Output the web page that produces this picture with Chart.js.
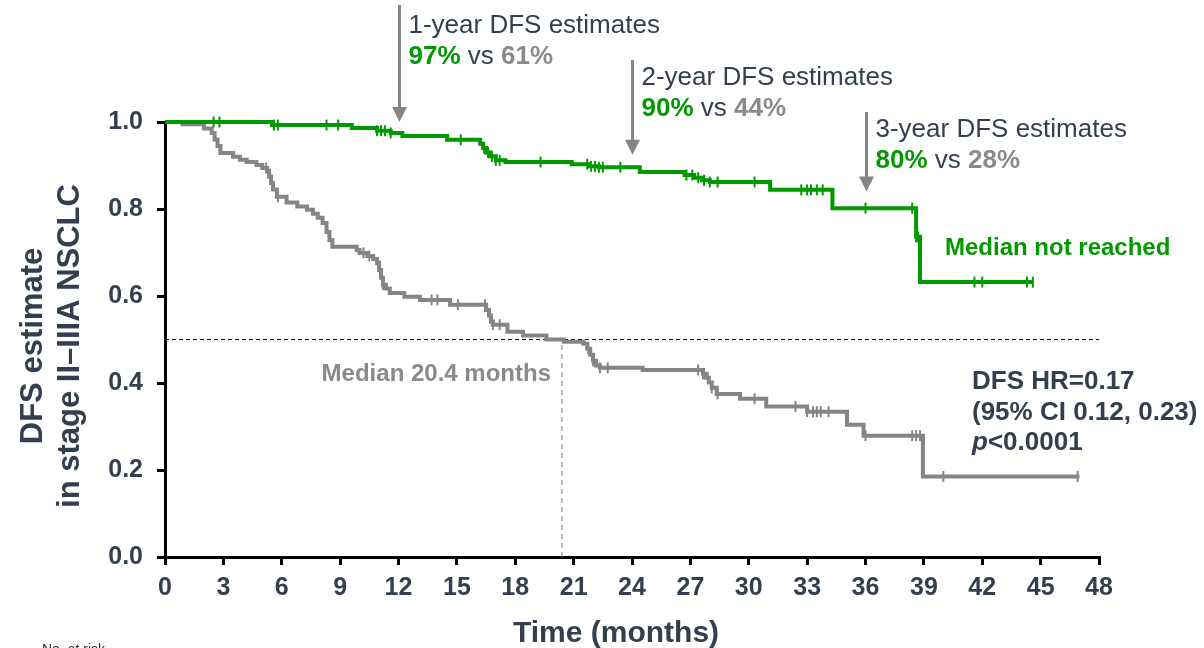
<!DOCTYPE html>
<html>
<head>
<meta charset="utf-8">
<script src="https://cdn.jsdelivr.net/npm/chart.js@4.4.1/dist/chart.umd.min.js"></script>
<style>
  html, body { margin: 0; padding: 0; background: #fff; overflow: hidden; }
  canvas { display: block; }
</style>
</head>
<body>
<canvas id="km" width="1204" height="648" style="width:1204px;height:648px"></canvas>
<script>
// Kaplan–Meier disease-free survival, two arms (months vs. DFS estimate)
const xTicks = [0, 3, 6, 9, 12, 15, 18, 21, 24, 27, 30, 33, 36, 39, 42, 45, 48];
const yTicks = [0, 0.2, 0.4, 0.6, 0.8, 1.0];
const yTickLabels = ['0.0', '0.2', '0.4', '0.6', '0.8', '1.0'];

// Experimental arm: step times and survival after each step
const greenTime = [0, 5.5, 9.6, 10.9, 11.6, 12.2, 14.5, 16.2, 16.35, 16.5, 16.7, 17.0, 17.5,
  20.9, 21.8, 22.3, 24.4, 26.7, 27.2, 27.6, 28.0, 31.1, 34.3, 38.6, 38.8, 44.6];
const greenSurv = [1.0, 0.993, 0.986, 0.980, 0.975, 0.968, 0.959, 0.950, 0.940, 0.930, 0.921, 0.912, 0.908,
  0.903, 0.898, 0.896, 0.885, 0.878, 0.872, 0.866, 0.862, 0.844, 0.802, 0.736, 0.632, 0.632];
const greenCensor = [2.5, 2.8, 5.6, 5.8, 8.3, 8.9, 10.9, 11.1, 11.3, 11.6, 15.2, 16.4, 16.6, 16.8, 17.0, 17.2,
  19.3, 21.7, 21.9, 22.1, 22.3, 22.5, 23.4, 26.8, 27.1, 27.4, 27.7, 28.0, 28.4, 30.3, 32.7, 33.0, 33.2,
  33.5, 33.8, 36.0, 38.4, 38.6, 38.7, 41.6, 42.0, 44.3, 44.6];

// Control arm
const grayTime = [0, 0.9, 2.0, 2.4, 2.55, 2.7, 2.85, 3.5, 3.85, 4.2, 4.7, 5.0, 5.25, 5.35, 5.45, 5.55, 5.75,
  6.25, 6.8, 7.3, 7.6, 7.85, 8.1, 8.3, 8.45, 8.6, 9.85, 10.0, 10.4, 10.7, 10.9, 11.0, 11.1, 11.2, 11.35,
  11.55, 12.3, 13.1, 14.65, 16.5, 16.65, 16.75, 16.85, 17.6, 18.4, 19.6, 20.5, 21.5, 21.7, 21.85, 22.0,
  22.15, 22.35, 24.55, 27.65, 27.8, 27.95, 28.1, 28.35, 29.55, 30.9, 33.0, 35.05, 35.9, 38.95, 47.0];
const graySurv = [1.0, 0.995, 0.985, 0.975, 0.960, 0.945, 0.929, 0.920, 0.913, 0.908, 0.901, 0.894, 0.888,
  0.875, 0.860, 0.845, 0.828, 0.815, 0.806, 0.798, 0.789, 0.780, 0.768, 0.747, 0.729, 0.713, 0.706, 0.699,
  0.692, 0.685, 0.676, 0.660, 0.642, 0.626, 0.617, 0.607, 0.598, 0.591, 0.580, 0.568, 0.555, 0.541, 0.534,
  0.518, 0.509, 0.500, 0.495, 0.490, 0.479, 0.465, 0.451, 0.440, 0.435, 0.430, 0.421, 0.412, 0.401, 0.389,
  0.375, 0.364, 0.346, 0.334, 0.304, 0.279, 0.185, 0.185];
const grayCensor = [5.2, 5.5, 5.8, 10.2, 10.5, 11.05, 11.2, 13.7, 14.0, 15.05, 16.45, 16.7, 16.85, 17.2,
  21.75, 22.0, 22.35, 22.75, 27.4, 27.65, 27.9, 28.1, 28.4, 30.3, 32.4, 33.0, 33.3, 33.5, 33.7, 34.1,
  36.0, 38.4, 38.6, 38.8, 40.0, 46.9];

// Landmark estimates
const landmarkMonths = [12, 24, 36];
const landmarkGreen = ['97%', '90%', '80%'];
const landmarkGray = ['61%', '44%', '28%'];
const landmarkTipValue = [1.0, 0.925, 0.84];

const medianGray = 20.4;

const FONT = '"Liberation Sans", Arial, Helvetica, sans-serif';
const DARK = '#333f50';
const GREEN = '#009900';
const GRAY = '#858585';
const GRAY_TEXT = '#8a8a8a';

function curve(times, surv) {
  return times.map((t, i) => ({ x: t, y: surv[i] }));
}
function survAt(times, surv, t) {
  let s = surv[0];
  for (let i = 0; i < times.length; i++) { if (times[i] <= t) s = surv[i]; }
  return s;
}
function censorPoints(cens, times, surv) {
  return cens.map(t => ({ x: t, y: survAt(times, surv, t) }));
}

function drawRuns(ctx, x, y, runs, size) {
  ctx.textAlign = 'left';
  ctx.textBaseline = 'alphabetic';
  for (const r of runs) {
    ctx.font = (r.italic ? 'italic ' : '') + (r.bold ? 'bold ' : '') + size + 'px ' + FONT;
    ctx.fillStyle = r.color;
    ctx.fillText(r.text, x, y);
    x += ctx.measureText(r.text).width;
  }
}

const annotations = {
  id: 'annotations',
  afterDraw(chart) {
    const ctx = chart.ctx;
    const xs = chart.scales.x, ys = chart.scales.y;
    ctx.save();

    // Landmark arrows with estimate labels
    const arrowTop = [5, 60, 112];
    const textBase = [33, 85, 137];
    landmarkMonths.forEach((m, i) => {
      const x = Math.round(xs.getPixelForValue(m)) + 0.5;
      const tip = ys.getPixelForValue(landmarkTipValue[i]);
      ctx.strokeStyle = GRAY;
      ctx.fillStyle = GRAY;
      ctx.lineWidth = 3;
      ctx.beginPath();
      ctx.moveTo(x, arrowTop[i]);
      ctx.lineTo(x, tip - 12);
      ctx.stroke();
      ctx.beginPath();
      ctx.moveTo(x - 7.5, tip - 15);
      ctx.lineTo(x + 7.5, tip - 15);
      ctx.lineTo(x, tip);
      ctx.closePath();
      ctx.fill();

      drawRuns(ctx, x + 9, textBase[i], [{ text: m / 12 + '-year DFS estimates', color: DARK }], 26);
      drawRuns(ctx, x + 9, textBase[i] + 31, [
        { text: landmarkGreen[i], color: GREEN, bold: true },
        { text: ' vs ', color: DARK },
        { text: landmarkGray[i], color: GRAY_TEXT, bold: true }
      ], 26);
    });

    // Median labels
    drawRuns(ctx, 945, 255, [{ text: 'Median not reached', color: GREEN, bold: true }], 24);
    ctx.font = 'bold 24px ' + FONT;
    ctx.fillStyle = GRAY_TEXT;
    ctx.textAlign = 'right';
    ctx.fillText('Median ' + medianGray + ' months', 551, 381);

    // Hazard ratio block
    drawRuns(ctx, 972, 389, [{ text: 'DFS HR=0.17', color: DARK, bold: true }], 26);
    drawRuns(ctx, 972, 420, [{ text: '(95% CI 0.12, 0.23)', color: DARK, bold: true }], 26);
    drawRuns(ctx, 972, 450, [
      { text: 'p', color: DARK, bold: true, italic: true },
      { text: '<0.0001', color: DARK, bold: true }
    ], 26);

    // Axis titles
    ctx.fillStyle = DARK;
    ctx.font = 'bold 31px ' + FONT;
    ctx.textAlign = 'center';
    ctx.textBaseline = 'alphabetic';
    ctx.save();
    ctx.translate(42, 346);
    ctx.rotate(-Math.PI / 2);
    ctx.fillText('DFS estimate', 0, 0);
    ctx.fillText('in stage II\u2013IIIA NSCLC', 0, 37);
    ctx.restore();
    ctx.font = 'bold 30px ' + FONT;
    ctx.fillText('Time (months)', 616, 642);

    // Footnote
    ctx.font = '14px ' + FONT;
    ctx.fillStyle = '#333';
    ctx.textAlign = 'left';
    ctx.fillText('No. at risk', 42, 654);

    ctx.restore();
  }
};

const tickFont = { family: FONT, size: 25, weight: 'bold' };

new Chart(document.getElementById('km'), {
  type: 'line',
  data: {
    datasets: [
      {
        label: 'Experimental',
        data: curve(greenTime, greenSurv),
        stepped: 'before',
        borderColor: GREEN,
        borderWidth: 4,
        pointRadius: 0,
        fill: false,
        clip: false
      },
      {
        label: 'Experimental censored',
        data: censorPoints(greenCensor, greenTime, greenSurv),
        showLine: false,
        pointStyle: 'line',
        rotation: 90,
        pointRadius: 5.5,
        pointBorderWidth: 2,
        pointBorderColor: GREEN,
        clip: false
      },
      {
        label: 'Control',
        data: curve(grayTime, graySurv),
        stepped: 'before',
        borderColor: GRAY,
        borderWidth: 4,
        pointRadius: 0,
        fill: false,
        clip: false
      },
      {
        label: 'Control censored',
        data: censorPoints(grayCensor, grayTime, graySurv),
        showLine: false,
        pointStyle: 'line',
        rotation: 90,
        pointRadius: 5.5,
        pointBorderWidth: 2,
        pointBorderColor: GRAY,
        clip: false
      },
      {
        label: 'Median level',
        data: [{ x: 0, y: 0.5 }, { x: 48, y: 0.5 }],
        borderColor: '#000',
        borderWidth: 1,
        borderDash: [4, 3],
        pointRadius: 0
      },
      {
        label: 'Control median',
        data: [{ x: medianGray, y: 0 }, { x: medianGray, y: 0.5 }],
        borderColor: '#777',
        borderWidth: 1,
        borderDash: [5, 4],
        pointRadius: 0
      }
    ]
  },
  options: {
    responsive: false,
    animation: false,
    devicePixelRatio: 1,
    layout: { padding: { left: 0, right: 105, top: 122, bottom: 0 } },
    plugins: { legend: { display: false }, tooltip: { enabled: false } },
    scales: {
      x: {
        type: 'linear',
        min: 0,
        max: 48,
        afterBuildTicks: s => { s.ticks = xTicks.map(v => ({ value: v })); },
        afterFit: s => { s.height = 91; },
        grid: { drawOnChartArea: false, drawTicks: true, tickLength: 8, color: '#000', lineWidth: 3 },
        border: { display: true, color: '#000', width: 3 },
        ticks: { font: tickFont, color: DARK, padding: 8, maxRotation: 0, autoSkip: false }
      },
      y: {
        type: 'linear',
        min: 0,
        max: 1,
        afterBuildTicks: s => { s.ticks = yTicks.map(v => ({ value: v })); },
        afterFit: s => { s.width = 165; },
        grid: { drawOnChartArea: false, drawTicks: true, tickLength: 8, color: '#000', lineWidth: 3 },
        border: { display: true, color: '#000', width: 3 },
        ticks: {
          font: tickFont, color: DARK, padding: 14,
          callback: v => yTickLabels[yTicks.findIndex(t => Math.abs(t - v) < 1e-9)]
        }
      }
    }
  },
  plugins: [annotations]
});
</script>
</body>
</html>
